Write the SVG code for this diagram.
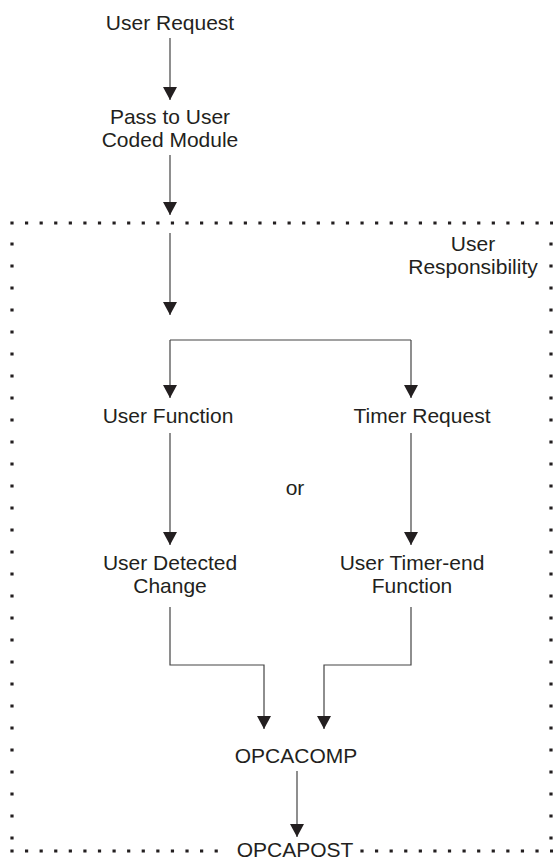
<svg xmlns="http://www.w3.org/2000/svg" width="554" height="861" viewBox="0 0 554 861">
<style>
text{font-family:"Liberation Sans",Arial,sans-serif;font-size:21px;fill:#231f20;text-anchor:middle}
.c{stroke:#444;stroke-width:1.2;fill:none}
.a{marker-end:url(#ah)}
.dot{stroke:#231f20;stroke-width:3.2;fill:none}
</style>
<defs>
<marker id="ah" markerUnits="userSpaceOnUse" markerWidth="14" markerHeight="14" refX="13" refY="7" orient="auto" viewBox="0 0 14 14">
<path d="M0,0 L13,7 L0,14 z" fill="#231f20"/>
</marker>
</defs>
<g id="boundary">
<line class="dot" x1="10.4" y1="223" x2="553" y2="223" stroke-dasharray="3.2 11.386"/>
<line class="dot" x1="12" y1="242.4" x2="12" y2="842" stroke-dasharray="3.2 18.8"/>
<line class="dot" x1="551" y1="242.4" x2="551" y2="842" stroke-dasharray="3.2 18.8"/>
<line class="dot" x1="10.4" y1="851" x2="219" y2="851" stroke-dasharray="3.2 11.386"/>
<line class="dot" x1="360.4" y1="851" x2="553" y2="851" stroke-dasharray="3.2 11.386"/>
</g>
<g id="connectors">
<line class="c a" x1="170" y1="38" x2="170" y2="100"/>
<line class="c a" x1="170" y1="155" x2="170" y2="215"/>
<line class="c a" x1="170" y1="233" x2="170" y2="315"/>
<line class="c" x1="170" y1="340" x2="411" y2="340"/>
<line class="c a" x1="170" y1="340" x2="170" y2="398"/>
<line class="c a" x1="411" y1="340" x2="411" y2="398"/>
<line class="c a" x1="170" y1="433" x2="170" y2="545"/>
<line class="c a" x1="411" y1="433" x2="411" y2="545"/>
<polyline class="c a" points="170,607 170,665 264,665 264,729"/>
<polyline class="c a" points="411,607 411,665 324,665 324,729"/>
<line class="c a" x1="297" y1="771" x2="297" y2="837"/>
</g>
<g id="user-request"><text x="170" y="30">User Request</text></g>
<g id="pass-to-user"><text x="170" y="124">Pass to User</text><text x="170" y="147">Coded Module</text></g>
<g id="user-responsibility"><text x="473" y="251">User</text><text x="473" y="274">Responsibility</text></g>
<g id="user-function"><text x="168" y="423">User Function</text></g>
<g id="timer-request"><text x="422" y="423">Timer Request</text></g>
<g id="or"><text x="295" y="495">or</text></g>
<g id="user-detected-change"><text x="170" y="570">User Detected</text><text x="170" y="593">Change</text></g>
<g id="user-timer-end"><text x="412" y="570">User Timer-end</text><text x="412" y="593">Function</text></g>
<g id="opcacomp"><text x="296" y="763">OPCACOMP</text></g>
<g id="opcapost"><text x="295" y="857">OPCAPOST</text></g>
</svg>
